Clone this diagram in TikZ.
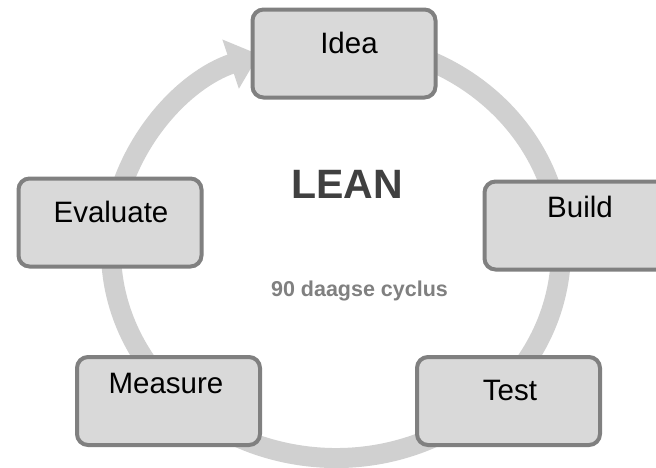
\documentclass[tikz,border=0pt]{standalone}
\usepackage{fontspec}
\setmainfont{Liberation Sans}
\usetikzlibrary{arrows.meta}
\definecolor{ringgray}{HTML}{D0D0D0}
\definecolor{boxfill}{HTML}{D9D9D9}
\definecolor{boxline}{HTML}{808080}
\definecolor{leangray}{HTML}{404040}
\definecolor{subgray}{HTML}{808080}
\begin{document}
\begin{tikzpicture}[x=1pt,y=-1pt,
  stagebox/.style={draw=boxline, fill=boxfill, line width=4pt, rounded corners=11pt,
    minimum width=183pt, minimum height=88pt, inner sep=0pt},
  stagetext/.style={font=\fontsize{29.5}{33}\selectfont, text=black, inner sep=0pt},
  ring/.style={draw=ringgray, line width=20pt, -{Triangle[width=50pt,length=30pt]}},
  titletext/.style={font=\fontsize{41}{46}\selectfont\bfseries, text=leangray, inner sep=0pt},
  subtext/.style={font=\fontsize{21.5}{25}\selectfont\bfseries, text=subgray, inner sep=0pt}]
\path[use as bounding box, clip] (0,0) rectangle (656,467);
\fill[white] (0,0) rectangle (656,467);
\coordinate (ringc) at (336,250);
\draw[ring] ([shift={(-80:225 and 208)}]ringc) arc[start angle=-80, end angle=250, x radius=225, y radius=208];

\node[stagebox] (idea) at (344,53.5) {};
\node[stagebox] (build) at (576,225.5) {};
\node[stagebox] (test) at (508.5,401) {};
\node[stagebox] (measure) at (168.5,401) {};
\node[stagebox] (evaluate) at (110,222.5) {};

\node[stagetext] (idealbl) at (349,43) {Idea};
\node[stagetext] (buildlbl) at (580,207) {Build};
\node[stagetext] (testlbl) at (510,390) {Test};
\node[stagetext] (measurelbl) at (166,383) {Measure};
\node[stagetext] (evaluatelbl) at (111,212) {Evaluate};

\node[titletext] (lean) at (347,184) {LEAN};
\node[subtext, anchor=base] (cycle) at (359.5,296) {90 daagse cyclus};
\end{tikzpicture}
\end{document}
